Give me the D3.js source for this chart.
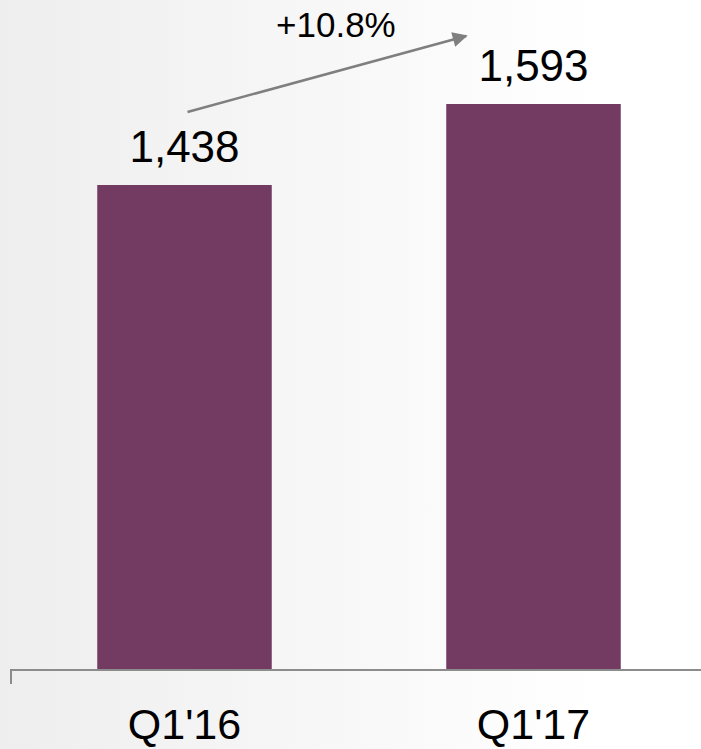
<!DOCTYPE html>
<html>
<head>
<meta charset="UTF-8">
<script src="https://d3js.org/d3.v7.min.js"></script>
<style>
  html, body { margin: 0; padding: 0; overflow: hidden; }
  text { font-family: "Liberation Sans", Arial, sans-serif; fill: #000; }
</style>
</head>
<body>
<div id="chart"></div>
<script>
// data
const categories = ["Q1'16", "Q1'17"];
const values = [1438, 1593];
const valueLabels = ["1,438", "1,593"];
const changeLabel = "+10.8%";

const width = 701, height = 749;
const baseline = 670;

const svg = d3.select("#chart").append("svg")
    .attr("width", width)
    .attr("height", height);

const defs = svg.append("defs");
const bg = defs.append("linearGradient").attr("id", "bg")
    .attr("x1", "0%").attr("x2", "100%").attr("y1", "0%").attr("y2", "0%");
bg.append("stop").attr("offset", "0%").attr("stop-color", "#eeeeee");
bg.append("stop").attr("offset", "85%").attr("stop-color", "#ffffff");

defs.append("marker")
    .attr("id", "head")
    .attr("viewBox", "0 0 10 10")
    .attr("refX", 9).attr("refY", 5)
    .attr("markerWidth", 7).attr("markerHeight", 6)
    .attr("markerUnits", "strokeWidth")
    .attr("orient", "auto")
    .append("path")
    .attr("d", "M0,0 L10,5 L0,10 z")
    .attr("fill", "#7f7f7f");

svg.append("rect").attr("width", width).attr("height", height).attr("fill", "url(#bg)");

const x = d3.scaleBand()
    .domain(categories)
    .range([10, 708])
    .paddingInner(0.5)
    .paddingOuter(0.25);

// value axis doesn't start at zero in the source
const y = d3.scaleLinear()
    .domain([510, 1593])
    .range([baseline, 104]);

// bars
svg.selectAll(".bar")
    .data(categories)
    .enter().append("rect")
    .attr("class", "bar")
    .attr("x", d => x(d))
    .attr("width", x.bandwidth())
    .attr("y", (d, i) => y(values[i]))
    .attr("height", (d, i) => baseline - y(values[i]))
    .attr("fill", "#733a62");

// axis line + left tick
svg.append("path")
    .attr("d", `M11,${baseline + 14} V${baseline} H${width}`)
    .attr("fill", "none")
    .attr("stroke", "#8c8c8c")
    .attr("stroke-width", 2);

// value labels
svg.selectAll(".val")
    .data(categories)
    .enter().append("text")
    .attr("class", "val")
    .attr("x", d => x(d) + x.bandwidth() / 2)
    .attr("y", (d, i) => y(values[i]) - 23)
    .attr("text-anchor", "middle")
    .attr("font-size", 44)
    .text((d, i) => valueLabels[i]);

// category labels
svg.selectAll(".cat")
    .data(categories)
    .enter().append("text")
    .attr("class", "cat")
    .attr("x", d => x(d) + x.bandwidth() / 2)
    .attr("y", 739)
    .attr("text-anchor", "middle")
    .attr("font-size", 43)
    .text(d => d);

// growth arrow
const x0 = x(categories[0]) + x.bandwidth() / 2 + 3;
const y0 = y(values[0]) - 73;
const x1 = x(categories[1]) + 20;
const y1 = y(values[1]) - 68;
svg.append("line")
    .attr("x1", x0).attr("y1", y0)
    .attr("x2", x1).attr("y2", y1)
    .attr("stroke", "#7f7f7f")
    .attr("stroke-width", 2.5)
    .attr("marker-end", "url(#head)");

svg.append("text")
    .attr("x", (x0 + x1) / 2 + 9)
    .attr("y", 37)
    .attr("text-anchor", "middle")
    .attr("font-size", 35)
    .text(changeLabel);
</script>
</body>
</html>
